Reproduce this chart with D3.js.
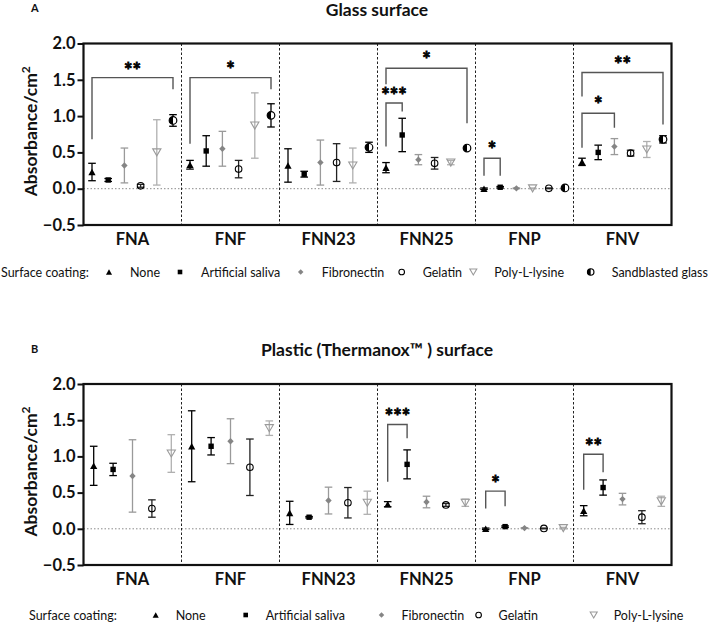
<!DOCTYPE html>
<html><head><meta charset="utf-8">
<script src="https://cdn.jsdelivr.net/npm/d3@7"></script>
<style>body{margin:0;background:#fff} svg{display:block} text{font-family:Lato,'Open Sans',sans-serif}</style>
</head><body><svg id="c" width="708" height="627"></svg>
<script>
const categories = ["FNA","FNF","FNN23","FNN25","FNP","FNV"];
const seriesGlass = ["None","Artificial saliva","Fibronectin","Gelatin","Poly-L-lysine","Sandblasted glass"];
const seriesPlastic = ["None","Artificial saliva","Fibronectin","Gelatin","Poly-L-lysine"];
// rows = series, columns = categories
const glassMeans = [
  [0.23, 0.33, 0.32, 0.29, 0.00, 0.37],
  [0.12, 0.52, 0.20, 0.74, 0.02, 0.50],
  [0.32, 0.55, 0.36, 0.40, 0.005, 0.58],
  [0.04, 0.27, 0.36, 0.35, 0.005, 0.49],
  [0.50, 0.87, 0.32, 0.36, 0.005, 0.54],
  [0.94, 1.01, 0.57, 0.56, 0.01, 0.68]
];
const glassSD = [
  [0.12, 0.06, 0.23, 0.07, 0.01, 0.05],
  [0.02, 0.21, 0.04, 0.23, 0.01, 0.10],
  [0.24, 0.24, 0.31, 0.07, 0.005, 0.11],
  [0.02, 0.12, 0.26, 0.08, 0.005, 0.04],
  [0.45, 0.45, 0.24, 0.03, 0.005, 0.11],
  [0.08, 0.16, 0.07, 0.02, 0.01, 0.05]
];
// in FNP (glass) the Gelatin and Poly-L-lysine points are swapped in position
const glassSlotOrder = {FNP: [0,1,2,4,3,5]};
const plasticMeans = [
  [0.87, 1.14, 0.22, 0.34, 0.00, 0.25],
  [0.82, 1.14, 0.16, 0.89, 0.03, 0.57],
  [0.73, 1.21, 0.39, 0.37, 0.01, 0.41],
  [0.28, 0.85, 0.36, 0.33, 0.005, 0.16],
  [1.04, 1.39, 0.36, 0.36, 0.01, 0.38]
];
const plasticSD = [
  [0.27, 0.49, 0.16, 0.035, 0.01, 0.07],
  [0.085, 0.12, 0.01, 0.20, 0.01, 0.105],
  [0.50, 0.31, 0.185, 0.08, 0.005, 0.08],
  [0.12, 0.39, 0.21, 0.02, 0.005, 0.09],
  [0.26, 0.10, 0.16, 0.05, 0.01, 0.07]
];
const yTicks = [-0.5, 0.0, 0.5, 1.0, 1.5, 2.0];
// significance brackets: category, from series, to series, label, bracket top, left leg end, right leg end, label centre (values)
const glassSig = [
  {cat:"FNA",   a:0, b:5, label:"**",  top:1.53, l:0.68, r:1.37, t:1.69},
  {cat:"FNF",   a:0, b:5, label:"*",   top:1.53, l:0.62, r:1.37, t:1.70},
  {cat:"FNN25", a:0, b:5, label:"*",   top:1.66, l:1.44, r:0.90, t:1.83},
  {cat:"FNN25", a:0, b:1, label:"***", top:1.18, l:0.58, r:1.065, t:1.34},
  {cat:"FNP",   a:0, b:1, label:"*",   top:0.42, l:0.18, r:0.18, t:0.59},
  {cat:"FNV",   a:0, b:5, label:"**",  top:1.60, l:1.27, r:0.885, t:1.76},
  {cat:"FNV",   a:0, b:2, label:"*",   top:1.04, l:0.565, r:0.84, t:1.22}
];
const plasticSig = [
  {cat:"FNN25", a:0, b:1, label:"***", top:1.44, l:0.65, r:1.25, t:1.60},
  {cat:"FNP",   a:0, b:1, label:"*",   top:0.52, l:0.28, r:0.31, t:0.68},
  {cat:"FNV",   a:0, b:1, label:"**",  top:1.03, l:0.54, r:0.78, t:1.19}
];

const styles = {
  "None":              {shape:"tri",  fill:"#000", stroke:"#000", bar:"#000"},
  "Artificial saliva": {shape:"sq",   fill:"#000", stroke:"#000", bar:"#000"},
  "Fibronectin":       {shape:"dia",  fill:"#858585", stroke:"#858585", bar:"#9a9a9a"},
  "Gelatin":           {shape:"circ", fill:"none", stroke:"#000", bar:"#222"},
  "Poly-L-lysine":     {shape:"tdn",  fill:"none", stroke:"#9a9a9a", bar:"#b0b0b0"},
  "Sandblasted glass": {shape:"half", fill:"#000", stroke:"#000", bar:"#000"}
};

const svg = d3.select("#c");

function drawMarker(g, name, x, y, s) {
  const st = styles[name];
  const k = s;
  if (st.shape === "tri") {
    const w = 7.2*k, h = 6.6*k;
    g.append("path").attr("d", `M${x-w/2},${y+h/2}L${x+w/2},${y+h/2}L${x},${y-h/2}Z`).attr("fill", st.fill);
  } else if (st.shape === "sq") {
    const w = 5.4*k;
    g.append("rect").attr("x", x-w/2).attr("y", y-w/2).attr("width", w).attr("height", w).attr("fill", st.fill);
  } else if (st.shape === "dia") {
    const w = 6.4*k;
    g.append("path").attr("d", `M${x},${y-w/2}L${x+w/2},${y}L${x},${y+w/2}L${x-w/2},${y}Z`).attr("fill", st.fill);
  } else if (st.shape === "circ") {
    g.append("circle").attr("cx", x).attr("cy", y).attr("r", 3.3*k).attr("fill", "none").attr("stroke", st.stroke).attr("stroke-width", 1.1);
  } else if (st.shape === "tdn") {
    const w = 8.2*k, h = 7*k;
    g.append("path").attr("d", `M${x-w/2},${y-h/2}L${x+w/2},${y-h/2}L${x},${y+h/2}Z`).attr("fill", "none").attr("stroke", st.stroke).attr("stroke-width", 1.1);
  } else if (st.shape === "half") {
    const r = 3.8*k;
    g.append("circle").attr("cx", x).attr("cy", y).attr("r", r).attr("fill", "#fff").attr("stroke", "#000").attr("stroke-width", 1.2);
    g.append("path").attr("d", `M${x},${y-r}A${r},${r} 0 0 0 ${x},${y+r}Z`).attr("fill", "#000");
  }
}

function drawPanel(cfg) {
  const left = 83.5, right = 671.5;
  const y = d3.scaleLinear().domain([-0.5, 2.0]).range([cfg.bottom, cfg.top]);
  const x = d3.scaleBand().domain(categories).range([left, right]).paddingInner(0).paddingOuter(0);
  const slot = d3.scalePoint().domain(d3.range(cfg.series.length)).range([-cfg.spread, cfg.spread]);
  const g = svg.append("g");

  // zero line
  g.append("line").attr("x1", left).attr("x2", right).attr("y1", y(0)).attr("y2", y(0))
    .attr("stroke", "#8a8a8a").attr("stroke-width", 1).attr("stroke-dasharray", "1.5,2");
  // category separators
  categories.slice(1).forEach(c => {
    g.append("line").attr("x1", x(c)).attr("x2", x(c)).attr("y1", cfg.top).attr("y2", cfg.bottom)
      .attr("stroke", "#222").attr("stroke-width", 1).attr("stroke-dasharray", "2.5,2");
  });

  // y axis
  const ax = g.append("g").attr("transform", `translate(${left},0)`)
    .call(d3.axisLeft(y).tickValues(yTicks).tickFormat(d3.format(".1f")).tickSize(6).tickPadding(2));
  ax.select(".domain").remove();
  ax.selectAll(".tick line").attr("stroke", "#111").attr("stroke-width", 2);
  ax.selectAll(".tick text").attr("font-family", "Lato").attr("font-weight", "bold").attr("font-size", 16.5).attr("fill", "#111");

  // frame
  g.append("rect").attr("x", left).attr("y", cfg.top).attr("width", right-left).attr("height", cfg.bottom-cfg.top)
    .attr("fill", "none").attr("stroke", "#111").attr("stroke-width", 2.2);

  // category labels
  categories.forEach(c => {
    g.append("text").attr("x", x(c) + x.bandwidth()/2).attr("y", cfg.bottom + 20)
      .attr("text-anchor", "middle").attr("font-weight", "bold").attr("font-size", 16.5).attr("fill", "#111").text(c);
  });

  const xPos = (ci, si) => {
    const c = categories[ci];
    const order = (cfg.slotOrder && cfg.slotOrder[c]) || null;
    const s = order ? order[si] : si;
    return x(c) + x.bandwidth()/2 + slot(s);
  };

  // error bars
  cfg.series.forEach((name, si) => {
    const st = styles[name];
    categories.forEach((c, ci) => {
      const m = cfg.means[si][ci], sd = cfg.sd[si][ci];
      const px = xPos(ci, si);
      const eg = g.append("g").attr("stroke", st.bar).attr("stroke-width", 1.3);
      eg.append("line").attr("x1", px).attr("x2", px).attr("y1", y(m - sd)).attr("y2", y(m + sd));
      [m - sd, m + sd].forEach(v => eg.append("line").attr("x1", px - 3.8).attr("x2", px + 3.8).attr("y1", y(v)).attr("y2", y(v)));
    });
  });
  // markers
  cfg.series.forEach((name, si) => {
    categories.forEach((c, ci) => {
      drawMarker(g, name, xPos(ci, si), y(cfg.means[si][ci]), 1);
    });
  });

  // significance
  cfg.sig.forEach(s => {
    const ci = categories.indexOf(s.cat);
    const xa = xPos(ci, s.a), xb = xPos(ci, s.b);
    g.append("path").attr("d", `M${xa},${y(s.l)}V${y(s.top)}H${xb}V${y(s.r)}`)
      .attr("fill", "none").attr("stroke", "#555").attr("stroke-width", 1.4);
    g.append("text").attr("x", (xa + xb)/2).attr("y", y(s.t) + 11.5)
      .attr("text-anchor", "middle").attr("font-family", "'DejaVu Sans'").attr("font-weight", "bold")
      .attr("font-size", 20).attr("fill", "#000").attr("stroke", "#000").attr("stroke-width", 0.8)
      .attr("letter-spacing", 0).text(s.label);
  });

  // title
  svg.append("text").attr("x", 377).attr("y", cfg.titleY).attr("text-anchor", "middle")
    .attr("font-weight", "bold").attr("font-size", 17.5).attr("fill", "#111").text(cfg.title);
  svg.append("text").attr("x", cfg.letterX).attr("y", cfg.letterY).attr("font-weight", "bold").attr("font-size", 11).attr("fill", "#111").text(cfg.letter);

  // y title
  const yt = svg.append("text").attr("transform", `translate(37,${(cfg.top + cfg.bottom)/2 - 3}) rotate(-90)`)
    .attr("text-anchor", "middle").attr("font-weight", "bold").attr("font-size", 17.5).attr("fill", "#111");
  yt.append("tspan").text("Absorbance/cm");
  yt.append("tspan").attr("dy", -7).attr("font-size", 12).text("2");

  // legend
  const lg = svg.append("g").attr("font-size", 12.5).attr("fill", "#111");
  lg.append("text").attr("x", cfg.legendLabelX).attr("y", cfg.legendY + 4.5).text("Surface coating:");
  cfg.series.forEach((name, si) => {
    drawMarker(lg, name, cfg.legendX[si], cfg.legendY, 0.85);
    lg.append("text").attr("x", cfg.legendX[si] + cfg.legendGap).attr("y", cfg.legendY + 4.5).text(name);
  });
}

drawPanel({
  top: 43.5, bottom: 225, spread: 40.5, series: seriesGlass, means: glassMeans, sd: glassSD, sig: glassSig,
  slotOrder: glassSlotOrder, title: "Glass surface", titleY: 16, letter: "A", letterX: 31, letterY: 12,
  legendY: 272, legendLabelX: 1, legendX: [109, 180, 300.7, 401.7, 473.3, 590.7], legendGap: 21
});
drawPanel({
  top: 384, bottom: 565, spread: 38.8, series: seriesPlastic, means: plasticMeans, sd: plasticSD, sig: plasticSig,
  title: "Plastic (Thermanox\u2122 ) surface", titleY: 356, letter: "B", letterX: 31, letterY: 353,
  legendY: 615, legendLabelX: 29, legendX: [155.7, 245.7, 381.5, 478.6, 593.7], legendGap: 20
});
</script></body></html>
